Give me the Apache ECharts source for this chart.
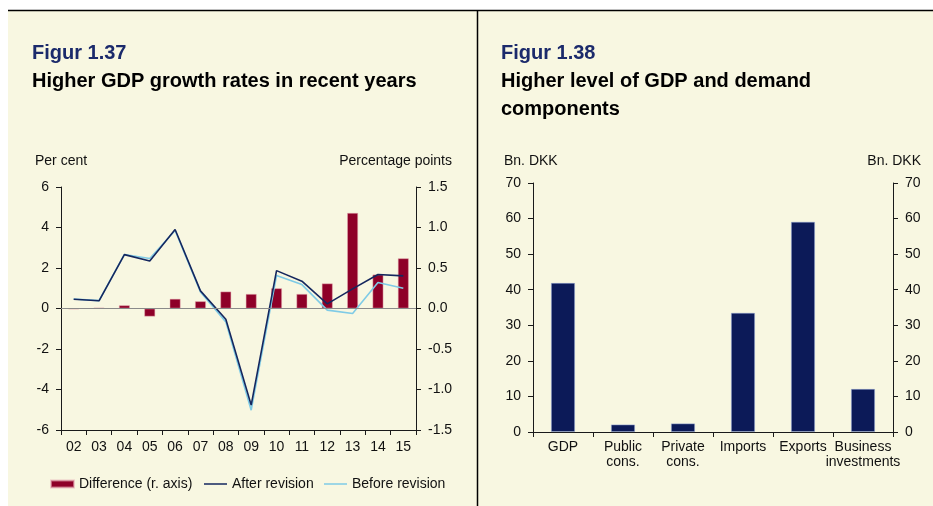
<!DOCTYPE html>
<html>
<head>
<meta charset="utf-8">
<script src="https://cdn.jsdelivr.net/npm/echarts@6/dist/echarts.min.js"></script>
<style>
  html, body { margin: 0; padding: 0; background: #ffffff; }
  #chart { width: 933px; height: 506px; }
</style>
</head>
<body>
<div id="chart"></div>
<script>
// Figur 1.37: GDP growth before and after revision
const years = ['02', '03', '04', '05', '06', '07', '08', '09', '10', '11', '12', '13', '14', '15'];
const afterRevision = [0.46, 0.38, 2.66, 2.35, 3.90, 0.87, -0.53, -4.77, 1.87, 1.35, 0.23, 0.97, 1.68, 1.61];
const beforeRevision = [0.47, 0.39, 2.67, 2.47, 3.85, 0.82, -0.66, -5.02, 1.63, 1.18, -0.08, -0.25, 1.28, 1.00];
const difference = [-0.01, 0.01, 0.04, -0.10, 0.12, 0.09, 0.21, 0.18, 0.25, 0.18, 0.31, 1.18, 0.42, 0.62];

// Figur 1.38: change in level of GDP and demand components
const components = ['GDP', 'Public\ncons.', 'Private\ncons.', 'Imports', 'Exports', 'Business\ninvestments'];
const levelChange = [41.9, 2.1, 2.4, 33.5, 59.1, 12.1];

const FONT = '"Liberation Sans", Arial, Helvetica, sans-serif';
const BG = '#f8f7e1';
const AXIS = '#1a1a1a';
const TXT = '#111111';
const CRIMSON = '#8e0028';
const NAVY = '#0c1a58';
const DARKLINE = '#15275e';
const LIGHTLINE = '#7fcbe6';

const labelStyle = { color: TXT, fontFamily: FONT, fontSize: 14 };

function heading(x, y, text, fill) {
  return { type: 'text', silent: true,
    style: { x: x, y: y, text: text, fill: fill, font: 'bold 20px ' + FONT, textVerticalAlign: 'middle' } };
}
function unitLabel(x, y, text, align) {
  return { type: 'text', silent: true,
    style: { x: x, y: y, text: text, fill: TXT, font: '14px ' + FONT, textAlign: align, textVerticalAlign: 'middle' } };
}
function legendBox(left, name, height) {
  return {
    left: left, top: 477, padding: 0, itemWidth: 23, itemHeight: height, itemGap: 0,
    icon: 'rect', textStyle: labelStyle, data: [name]
  };
}

const chart = echarts.init(document.getElementById('chart'), null, { renderer: 'canvas' });

chart.setOption({
  animation: false,
  backgroundColor: '#ffffff',
  textStyle: { fontFamily: FONT },
  graphic: [
    { type: 'rect', silent: true, z: -10, shape: { x: 8, y: 11, width: 925, height: 495 }, style: { fill: BG } },
    { type: 'line', silent: true, shape: { x1: 8, y1: 10.5, x2: 933, y2: 10.5 }, style: { stroke: '#000', lineWidth: 1.5 } },
    { type: 'line', silent: true, shape: { x1: 477.5, y1: 10, x2: 477.5, y2: 506 }, style: { stroke: '#000', lineWidth: 1.5 } },

    heading(32, 53, 'Figur 1.37', '#1b2a6b'),
    heading(32, 81.5, 'Higher GDP growth rates in recent years', '#000'),
    unitLabel(35, 161, 'Per cent', 'left'),
    unitLabel(452, 161, 'Percentage points', 'right'),

    heading(501, 53, 'Figur 1.38', '#1b2a6b'),
    heading(501, 81, 'Higher level of GDP and demand', '#000'),
    heading(501, 109.5, 'components', '#000'),
    unitLabel(504, 161, 'Bn. DKK', 'left'),
    unitLabel(921, 161, 'Bn. DKK', 'right')
  ],
  legend: [
    legendBox(50, 'Difference (r. axis)', 7),
    legendBox(204, 'After revision', 1.5),
    legendBox(324, 'Before revision', 1.5)
  ],
  grid: [
    { left: 61, right: 933 - 416, top: 187, bottom: 506 - 430, containLabel: false },
    { left: 533, right: 933 - 893, top: 183, bottom: 506 - 432, containLabel: false }
  ],
  xAxis: [
    {
      type: 'category', gridIndex: 0, data: years,
      axisLine: { onZero: false, lineStyle: { color: AXIS, width: 1 } },
      axisTick: { show: true, alignWithLabel: false, length: 5, lineStyle: { color: AXIS } },
      axisLabel: Object.assign({ margin: 10, interval: 0 }, labelStyle),
      splitLine: { show: false }
    },
    {
      type: 'category', gridIndex: 1, data: components,
      axisLine: { onZero: false, lineStyle: { color: AXIS, width: 1 } },
      axisTick: { show: true, alignWithLabel: false, length: 5, lineStyle: { color: AXIS } },
      axisLabel: Object.assign({ margin: 8, interval: 0, lineHeight: 14.5 }, labelStyle),
      splitLine: { show: false }
    }
  ],
  yAxis: [
    {
      type: 'value', gridIndex: 0, position: 'left', min: -6, max: 6, interval: 2,
      axisLine: { show: true, lineStyle: { color: AXIS } },
      axisTick: { show: true, length: 5, lineStyle: { color: AXIS } },
      axisLabel: Object.assign({ margin: 12 }, labelStyle),
      splitLine: { show: false }
    },
    {
      type: 'value', gridIndex: 0, position: 'right', min: -1.5, max: 1.5, interval: 0.5,
      axisLine: { show: true, lineStyle: { color: AXIS } },
      axisTick: { show: true, length: 5, lineStyle: { color: AXIS } },
      axisLabel: Object.assign({ margin: 12, formatter: v => v.toFixed(1) }, labelStyle),
      splitLine: { show: false }
    },
    {
      type: 'value', gridIndex: 1, position: 'left', min: 0, max: 70, interval: 10,
      axisLine: { show: true, lineStyle: { color: AXIS } },
      axisTick: { show: true, length: 5, lineStyle: { color: AXIS } },
      axisLabel: Object.assign({ margin: 12 }, labelStyle),
      splitLine: { show: false }
    },
    {
      type: 'value', gridIndex: 1, position: 'right', min: 0, max: 70, interval: 10,
      axisLine: { show: true, lineStyle: { color: AXIS } },
      axisTick: { show: true, length: 5, lineStyle: { color: AXIS } },
      axisLabel: Object.assign({ margin: 12 }, labelStyle),
      splitLine: { show: false }
    }
  ],
  series: [
    {
      name: 'Difference (r. axis)', type: 'bar', xAxisIndex: 0, yAxisIndex: 1,
      data: difference, barWidth: 11,
      itemStyle: { color: CRIMSON, borderColor: 'rgba(230,170,180,0.6)', borderWidth: 0.8 },
      markLine: {
        silent: true, symbol: 'none', label: { show: false },
        lineStyle: { color: '#8a8a8a', type: 'solid', width: 1.2 },
        data: [{ yAxis: 0 }]
      },
      z: 2
    },
    {
      name: 'Before revision', type: 'line', xAxisIndex: 0, yAxisIndex: 0,
      data: beforeRevision, symbol: 'none',
      lineStyle: { color: LIGHTLINE, width: 1.6 }, itemStyle: { color: LIGHTLINE },
      z: 3
    },
    {
      name: 'After revision', type: 'line', xAxisIndex: 0, yAxisIndex: 0,
      data: afterRevision, symbol: 'none',
      lineStyle: { color: DARKLINE, width: 1.6 }, itemStyle: { color: DARKLINE },
      z: 4
    },
    {
      name: 'Level change', type: 'bar', xAxisIndex: 1, yAxisIndex: 2,
      data: levelChange, barWidth: 24,
      itemStyle: { color: NAVY, borderColor: 'rgba(150,170,220,0.6)', borderWidth: 0.8 }
    }
  ]
});
</script>
</body>
</html>
